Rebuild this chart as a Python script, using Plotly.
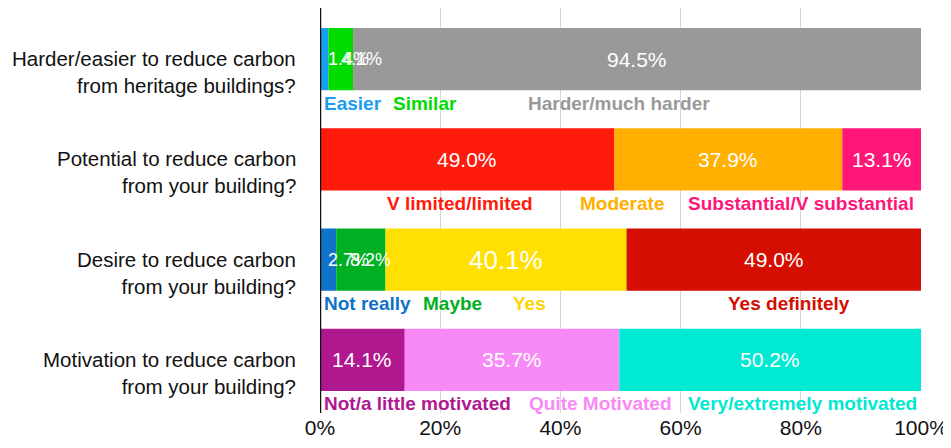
import plotly.graph_objects as go

# ---------------- data ----------------
questions = [
    "Harder/easier to reduce carbon<br>from heritage buildings?",
    "Potential to reduce carbon<br>from your building?",
    "Desire to reduce carbon<br>from your building?",
    "Motivation to reduce carbon<br>from your building?",
]

q1_labels = ["Easier", "Similar", "Harder/much harder"]
q1_values = [1.4, 4.1, 94.5]

q2_labels = ["V limited/limited", "Moderate", "Substantial/V substantial"]
q2_values = [49.0, 37.9, 13.1]

q3_labels = ["Not really", "Maybe", "Yes", "Yes definitely"]
q3_values = [2.7, 8.2, 40.1, 49.0]

q4_labels = ["Not/a little motivated", "Quite Motivated", "Very/extremely motivated"]
q4_values = [14.1, 35.7, 50.2]

tick_vals = [0, 20, 40, 60, 80, 100]
tick_text = ["0%", "20%", "40%", "60%", "80%", "100%"]

# ---------------- styles ----------------
q1_colors = ["#1a9ef2", "#00dc00", "#999999"]
q2_colors = ["#ff1a0c", "#ffb000", "#ff1678"]
q3_colors = ["#1072c8", "#00b022", "#ffe000", "#d40e00"]
q4_colors = ["#b01890", "#f78af6", "#00e9d2"]
q3_label_colors = ["#1072c8", "#00b022", "#ffd500", "#d40e00"]

# positions of category names under bars (x in %, anchor)
q1_name_pos = [(0.3, "left"), (17.4, "center"), (49.7, "center")]
q2_name_pos = [(23.3, "center"), (50.2, "center"), (80.0, "center")]
q3_name_pos = [(0.3, "left"), (22.0, "center"), (34.8, "center"), (78.0, "center")]
q4_name_pos = [(0.3, "left"), (46.7, "center"), (80.3, "center")]

# overrides for value labels of tiny segments (x in %, anchor left)
value_pos_override = {(0, 0): 1.0, (0, 1): 3.2, (2, 0): 1.0, (2, 1): 4.6}
big_labels = {(2, 2)}

groups = [
    (q1_labels, q1_values, q1_colors, q1_colors, q1_name_pos),
    (q2_labels, q2_values, q2_colors, q2_colors, q2_name_pos),
    (q3_labels, q3_values, q3_colors, q3_label_colors, q3_name_pos),
    (q4_labels, q4_values, q4_colors, q4_colors, q4_name_pos),
]

FONT = "Liberation Sans, Arial, Helvetica, sans-serif"

fig = go.Figure()
annotations = []

for gi, (labels, values, colors, lcolors, name_pos) in enumerate(groups):
    cum = 0.0
    for si, (lab, val, col) in enumerate(zip(labels, values, colors)):
        fig.add_trace(go.Bar(
            x=[val], y=[gi], base=[cum], orientation="h",
            width=0.62,
            marker=dict(color=col, line=dict(width=0)),
            showlegend=False, hoverinfo="skip",
        ))
        # value label
        txt = f"{val:.1f}%"
        small = (gi, si) in value_pos_override
        if small:
            ax, anc = value_pos_override[(gi, si)], "left"
        else:
            ax, anc = cum + val / 2, "center"
        fsize = 26 if (gi, si) in big_labels else (18 if small else 21)
        annotations.append(dict(
            x=ax, y=gi, xref="x", yref="y", text=txt, showarrow=False,
            xanchor=anc, yanchor="middle",
            font=dict(family=FONT, size=fsize, color="white"),
        ))
        # category name below bar
        nx, nanc = name_pos[si]
        annotations.append(dict(
            x=nx, y=gi + 0.44, xref="x", yref="y", text=f"<b>{lab}</b>",
            showarrow=False, xanchor=nanc, yanchor="middle",
            font=dict(family=FONT, size=19, color=lcolors[si]),
        ))
        cum += val

# question labels on the left
for gi, q in enumerate(questions):
    annotations.append(dict(
        x=-0.036, y=gi + 0.13, xref="paper", yref="y", text=q, showarrow=False,
        xanchor="right", yanchor="middle", align="right",
        font=dict(family=FONT, size=20.5, color="#111111"),
    ))

fig.update_layout(
    width=951, height=448,
    margin=dict(l=312, r=38, t=0, b=43),
    paper_bgcolor="white", plot_bgcolor="white",
    barmode="overlay",
    annotations=annotations,
    xaxis=dict(
        range=[0, 100], tickvals=tick_vals, ticktext=tick_text,
        showgrid=True, gridcolor="#d6d6d6", gridwidth=1,
        zeroline=False, showline=False, ticks="",
        tickfont=dict(family=FONT, size=21, color="#111111"),
    ),
    yaxis=dict(
        range=[3.53, -0.51], showticklabels=False, showgrid=False,
        zeroline=False, showline=False, ticks="",
    ),
    shapes=[dict(type="line", xref="x", yref="paper", x0=0, x1=0, y0=0, y1=1,
                 line=dict(color="#111111", width=2.5))],
)

fig.write_html("out.html")
